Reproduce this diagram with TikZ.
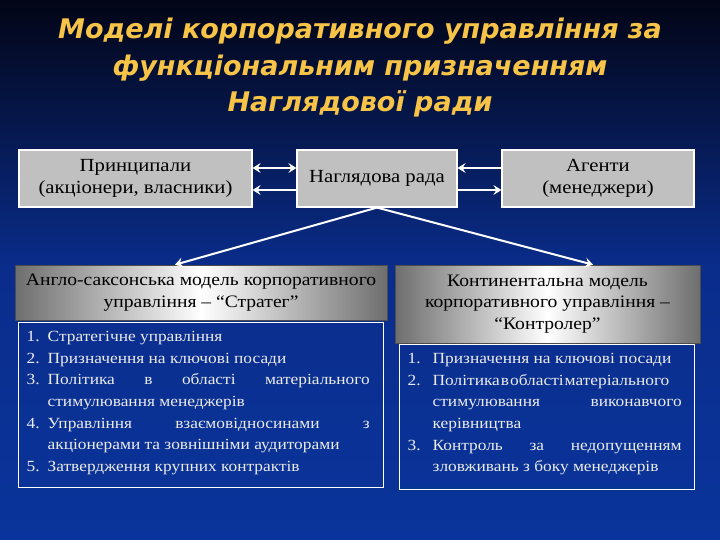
\documentclass[tikz,border=0pt]{standalone}
\usepackage{fontspec}
\setmainfont{Liberation Serif}[FakeStretch=1.12]
\newfontfamily\titlefont{DejaVu Sans}
\usetikzlibrary{arrows.meta}
\definecolor{bgtop}{RGB}{2,5,22}
\definecolor{bgmid}{RGB}{10,45,140}
\definecolor{bgbot}{RGB}{10,52,155}
\definecolor{titlecol}{RGB}{247,196,72}
\definecolor{boxgray}{RGB}{192,192,192}
\definecolor{listcol}{RGB}{235,235,235}
\definecolor{headedge}{RGB}{110,110,110}
\newcommand\myitem[3]{\par\noindent\hangindent=#1\hangafter=1\makebox[#1][l]{#2}#3}
\begin{document}
\begin{tikzpicture}[x=1pt,y=-1pt,
  >={Stealth[length=8pt,width=10pt,inset=3pt]},
  topbox/.style={draw=white, line width=1.2pt, fill=boxgray, minimum height=57pt, inner sep=0pt, align=center, font=\fontsize{18.5}{22.5}\selectfont},
  headbox/.style={draw=black!70, line width=0.6pt, left color=headedge, right color=headedge, middle color=white, inner sep=0pt, align=center, font=\fontsize{17.5}{21.7}\selectfont},
  listbox/.style={draw=white, line width=1pt, inner sep=0pt},
  listtext/.style={text=listcol, inner sep=0pt, align=justify, font=\fontsize{15.5}{21.7}\selectfont, anchor=north west},
  link/.style={draw=white, line width=2.5pt},
  titletext/.style={font=\titlefont\bfseries\itshape\fontsize{27}{37}\selectfont, text=titlecol}
]
\useasboundingbox (0,0) rectangle (720,540);
\shade[top color=bgtop, bottom color=bgmid] (0,0) rectangle (720,270);
\shade[top color=bgmid, bottom color=bgbot] (0,270) rectangle (720,540);

% title
\node[titletext] (t1) at (360,31) {Моделі корпоративного управління за};
\node[titletext] (t2) at (360,68) {функціональним призначенням};
\node[titletext] (t3) at (360,104) {Наглядової ради};

% top row
\node[topbox, minimum width=233pt] (princ) at (135.5,178.5) {Принципали\\(акціонери, власники)};
\node[topbox, minimum width=160pt] (board) at (377,178.5) {Наглядова рада};
\node[topbox, minimum width=192pt] (agent) at (598,178.5) {Агенти\\(менеджери)};

\draw[link,<->] ([yshift=10.5pt]princ.east) -- ([yshift=10.5pt]board.west);
\draw[link,<-] ([yshift=-11.5pt]princ.east) -- ([yshift=-11.5pt]board.west);
\draw[link,<-] ([yshift=10.5pt]board.east) -- ([yshift=10.5pt]agent.west);
\draw[link,->] ([yshift=-11.5pt]board.east) -- ([yshift=-11.5pt]agent.west);

% headers
\node[headbox, minimum width=372pt, minimum height=55pt] (lhead) at (201,292.5) {Англо-саксонська модель корпоративного\\управління – “Стратег”};
\node[headbox, minimum width=305pt, minimum height=78pt] (rhead) at (547.5,304) {Континентальна модель\\корпоративного управління –\\“Контролер”};

\draw[link,->,line width=2pt] (board.south) -- ([xshift=-26pt]lhead.north);
\draw[link,->,line width=2pt] (board.south) -- ([xshift=45.5pt]rhead.north);

% lists
\node[listbox, minimum width=365pt, minimum height=165pt] (llist) at (200.5,404.5) {};
\node[listbox, minimum width=295pt, minimum height=145pt] (rlist) at (546.5,416.5) {};

\node[listtext, text width=343pt] (ltext) at ([xshift=9pt,yshift=2pt]llist.north west) {%
\myitem{21pt}{1.}{Стратегічне управління}
\myitem{21pt}{2.}{Призначення на ключові посади}
\myitem{21pt}{3.}{Політика в області матеріального\linebreak стимулювання менеджерів}
\myitem{21pt}{4.}{Управління взаємовідносинами з\linebreak акціонерами та зовнішніми аудиторами}
\myitem{21pt}{5.}{Затвердження крупних контрактів}\par};

\node[listtext, text width=274pt] (rtext) at ([xshift=9pt,yshift=2pt]rlist.north west) {%
\myitem{25pt}{1.}{Призначення на ключові посади}
\myitem{25pt}{2.}{\mbox{Політика\hspace{1pt}в\hspace{1pt}області\hspace{1pt}матеріального}\linebreak стимулювання виконавчого\linebreak керівництва}
\myitem{25pt}{3.}{Контроль за недопущенням\linebreak зловживань з боку менеджерів}\par};
\end{tikzpicture}
\end{document}
